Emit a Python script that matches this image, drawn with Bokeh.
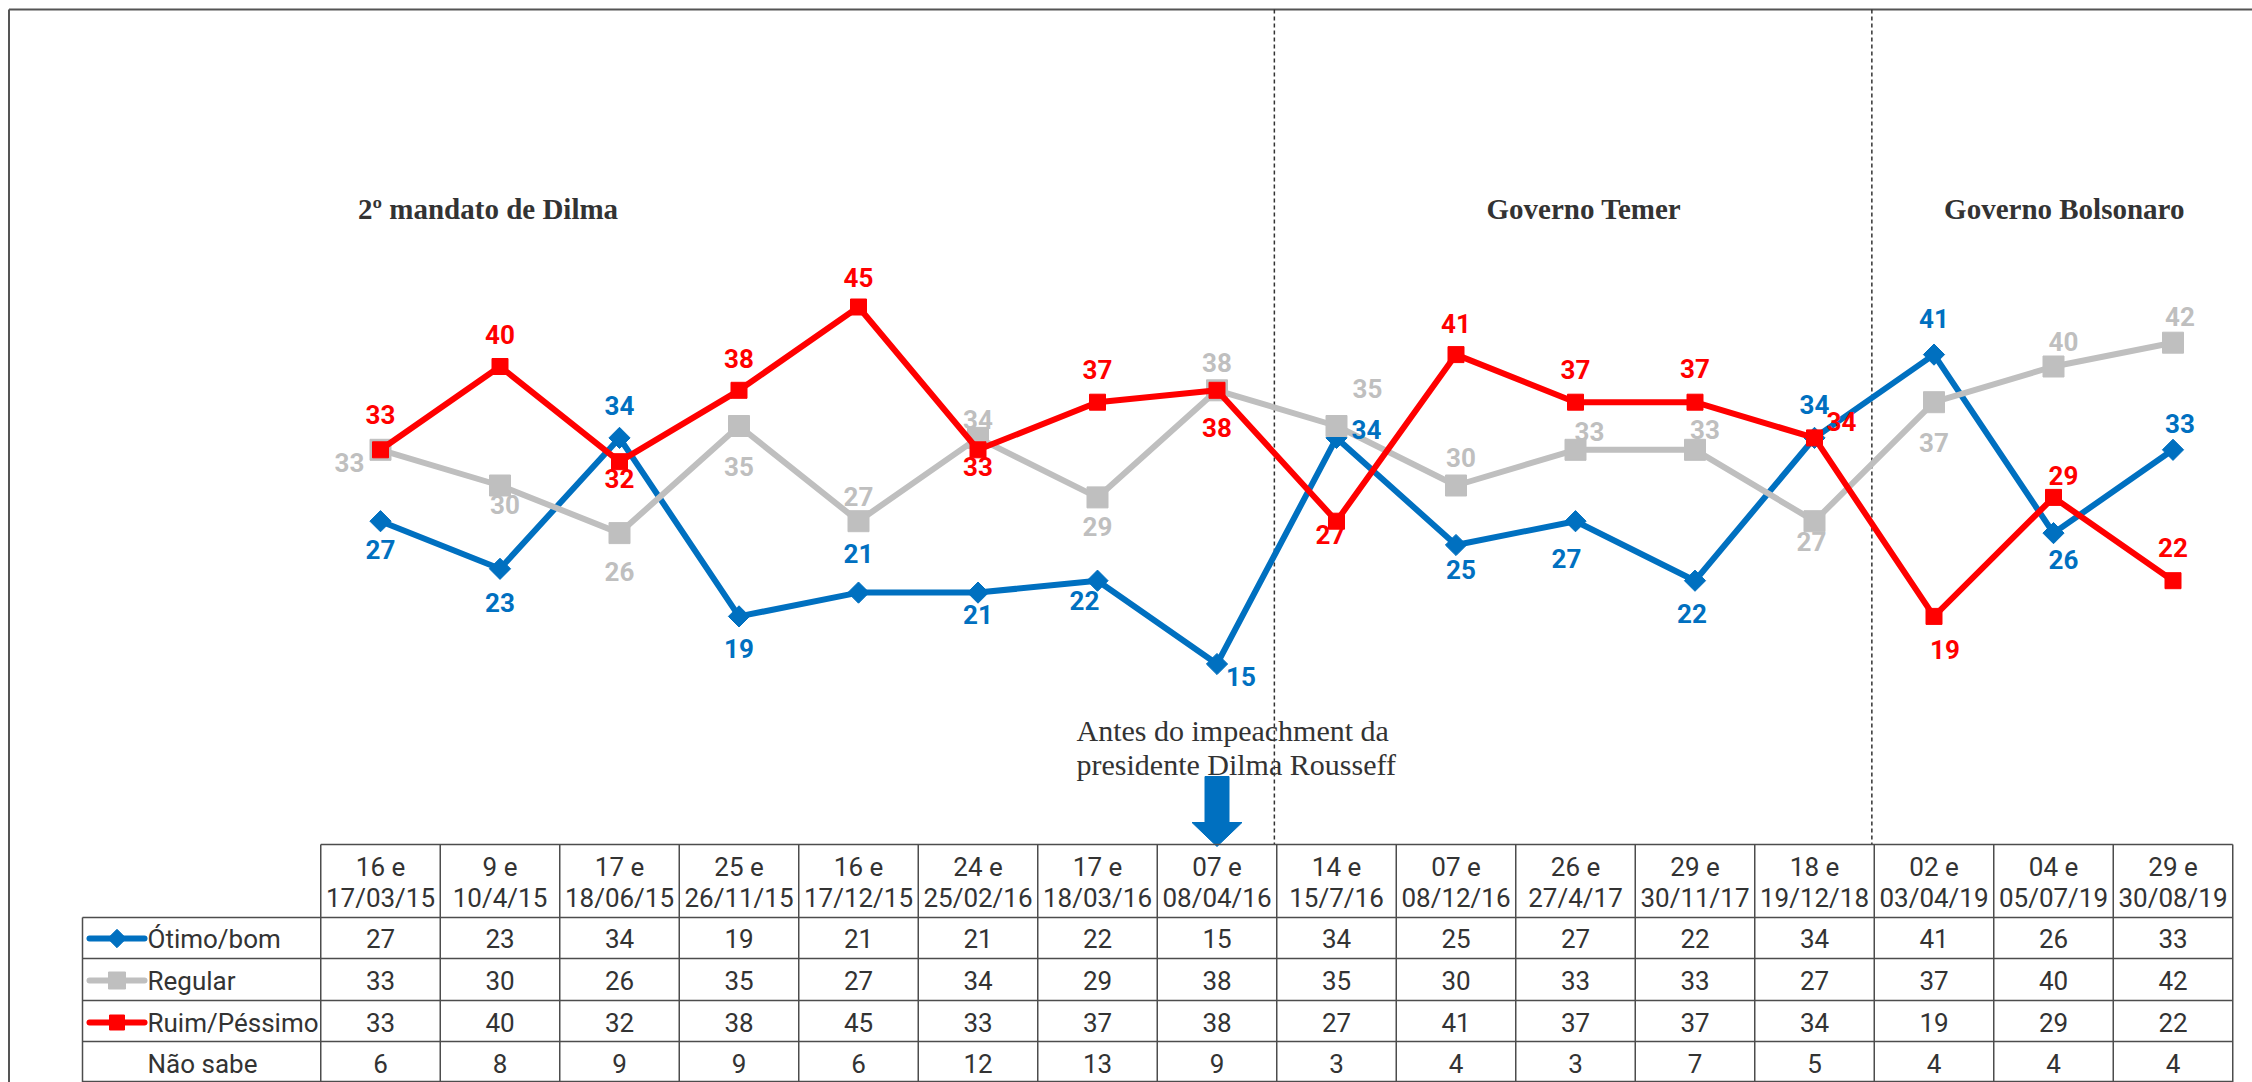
import numpy as np
from bokeh.plotting import figure
from bokeh.models import Range1d
from bokeh.embed import file_html
from bokeh.resources import INLINE
from bokeh.core.properties import value

# ---------------- data ----------------
dates_day = ["16 e", "9 e", "17 e", "25 e", "16 e", "24 e", "17 e", "07 e",
             "14 e", "07 e", "26 e", "29 e", "18 e", "02 e", "04 e", "29 e"]
dates_end = ["17/03/15", "10/4/15", "18/06/15", "26/11/15", "17/12/15", "25/02/16",
             "18/03/16", "08/04/16", "15/7/16", "08/12/16", "27/4/17", "30/11/17",
             "19/12/18", "03/04/19", "05/07/19", "30/08/19"]
otimo_bom = [27, 23, 34, 19, 21, 21, 22, 15, 34, 25, 27, 22, 34, 41, 26, 33]
regular = [33, 30, 26, 35, 27, 34, 29, 38, 35, 30, 33, 33, 27, 37, 40, 42]
ruim_pessimo = [33, 40, 32, 38, 45, 33, 37, 38, 27, 41, 37, 37, 34, 19, 29, 22]
nao_sabe = [6, 8, 9, 9, 6, 12, 13, 9, 3, 4, 3, 7, 5, 4, 4, 4]
series_names = ["Ótimo/bom", "Regular", "Ruim/Péssimo", "Não sabe"]
period_titles = ["2º mandato de Dilma", "Governo Temer", "Governo Bolsonaro"]
period_title_cols = [0.9, 10.07, 14.09]
period_breaks = [7.48, 12.48]
note_lines = ["Antes do impeachment da", "presidente Dilma Rousseff"]
note_col = 7

# label placement (screen px offsets, dy positive = down)
blue_dx = [0, 0, 0, 0, 0, 0, -13, 24, 30, 5, -9, -3, 0, 0, 10, 7]
blue_dy = [28, 34, -32, 32, -39, 22, 20, 12, -8, 24, 37, 33, -33, -36, 26, -26]
grey_dx = [-31, 5, 0, 0, 0, 0, 0, 0, 31, 5, 14, 10, -3, 0, 10, 7]
grey_dy = [13, 19, 38, 40, -25, -18, 29, -28, -38, -28, -18, -20, 20, 40, -25, -26]
red_dx = [0, 0, 0, 0, 0, 0, 0, 0, -6, 0, 0, 0, 27, 11, 10, 0]
red_dy = [-35, -32, 17, -32, -30, 17, -33, 37, 13, -31, -33, -34, -16, 33, -22, -33]

BLUE, GREY, RED = "#0070C0", "#BFBFBF", "#FF0000"
TXT = "#333333"
SANS = "Roboto"
SERIF = "Liberation Serif"

# ---------------- geometry helpers (px -> data) ----------------
X0, XS = 380.0, 119.5   # px of column 0 centre, px per column
Y0, YS = 842.0, 11.9    # px of value 0, px per unit


def X(px):
    return (px - X0) / XS


def Y(py):
    return (Y0 - py) / YS


W, H = 2252, 1082
p = figure(width=W, height=H, x_range=Range1d(X(0), X(W)),
           y_range=Range1d(Y(H), Y(0)), output_backend="svg",
           toolbar_location=None, min_border=0)
p.axis.visible = False
p.xgrid.visible = False
p.ygrid.visible = False
p.outline_line_color = None
p.background_fill_color = "white"
p.border_fill_color = "white"

n = len(dates_end)
idx = list(range(n))

# outer frame (left + top)
p.segment(x0=[X(8.5), X(8.5)], y0=[Y(H), Y(9)], x1=[X(8.5), X(W)], y1=[Y(9), Y(9)],
          line_color="#555555", line_width=2)

# period separators
p.segment(x0=period_breaks, x1=period_breaks, y0=[Y(9)] * 2, y1=[Y(844)] * 2,
          line_color="#333333", line_width=1.5, line_dash="4 3")

# period titles
p.text(x=period_title_cols, y=[Y(208)] * 3, text=period_titles, text_font=value(SERIF),
       text_font_style="bold", text_font_size="29px", text_color=TXT,
       text_align="center", text_baseline="middle")

# note + arrow
p.text(x=[X(1076)] * 2, y=[Y(730), Y(764)], text=note_lines, text_font=value(SERIF),
       text_font_size="30px", text_color=TXT, text_align="left", text_baseline="alphabetic")
ax = note_col
arrow_dx = [-12, 12, 12, 25, 0, -25, -12]
arrow_py = [776, 776, 822, 822, 846, 822, 822]
p.patch(x=[ax + d / XS for d in arrow_dx], y=[Y(v) for v in arrow_py],
        fill_color=BLUE, line_color=BLUE, line_width=1)

# ---------------- series ----------------
def draw_series(vals, color, marker, msize, angle=0.0):
    p.line(idx, vals, line_color=color, line_width=6, line_join="round")
    p.scatter(idx, vals, marker=marker, size=msize, angle=angle,
              fill_color=color, line_color=color)


draw_series(otimo_bom, BLUE, "square", 15, np.pi / 4)
draw_series(regular, GREY, "square", 21)
draw_series(ruim_pessimo, RED, "square", 16)

for vals, color, dx, dy in [(otimo_bom, BLUE, blue_dx, blue_dy),
                            (regular, GREY, grey_dx, grey_dy),
                            (ruim_pessimo, RED, red_dx, red_dy)]:
    p.text(x=idx, y=vals, text=[str(v) for v in vals], x_offset=dx, y_offset=dy,
           text_font=value(SANS), text_font_style="bold", text_font_size="26px",
           text_color=color, text_align="center", text_baseline="middle")

# ---------------- table ----------------
col_edges = [i - 0.5 for i in range(n + 1)]
row_lines_py = [917, 958, 1000, 1041, 1081]
LINE = "#4d4d4d"
# header top (data columns only)
p.segment(x0=[col_edges[0]], x1=[col_edges[-1]], y0=[Y(844)], y1=[Y(844)],
          line_color=LINE, line_width=1.5)
# row lines
p.segment(x0=[X(82)] * len(row_lines_py), x1=[col_edges[-1]] * len(row_lines_py),
          y0=[Y(v) for v in row_lines_py], y1=[Y(v) for v in row_lines_py],
          line_color=LINE, line_width=1.5)
# vertical lines
p.segment(x0=col_edges, x1=col_edges, y0=[Y(844)] * len(col_edges), y1=[Y(H)] * len(col_edges),
          line_color=LINE, line_width=1.5)
p.segment(x0=[X(82)], x1=[X(82)], y0=[Y(917)], y1=[Y(H)], line_color=LINE, line_width=1.5)

tab_font = dict(text_font=value(SANS), text_font_size="26px", text_color=TXT,
                text_baseline="middle")
p.text(x=idx, y=[Y(866)] * n, text=dates_day, text_align="center", **tab_font)
p.text(x=idx, y=[Y(897)] * n, text=dates_end, text_align="center", **tab_font)

row_py = [938, 980, 1022, 1063]
for vals, py in zip([otimo_bom, regular, ruim_pessimo, nao_sabe], row_py):
    p.text(x=idx, y=[Y(py)] * n, text=[str(v) for v in vals], text_align="center", **tab_font)

p.text(x=[X(147)] * 4, y=[Y(v) for v in row_py], text=series_names, text_align="left", **tab_font)

# legend icons in the row labels
for color, marker, msize, angle, py in [(BLUE, "square", 13, np.pi / 4, row_py[0]),
                                        (GREY, "square", 17, 0.0, row_py[1]),
                                        (RED, "square", 15, 0.0, row_py[2])]:
    p.line([X(89), X(144)], [Y(py), Y(py)], line_color=color, line_width=6, line_cap="round")
    p.scatter([X(116.5)], [Y(py)], marker=marker, size=msize, angle=angle,
              fill_color=color, line_color=color)

open("out.html", "w").write(file_html(p, INLINE))
